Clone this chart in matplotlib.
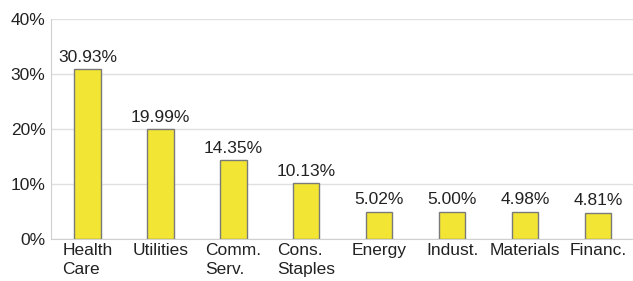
import matplotlib.pyplot as plt
import numpy as np

plt.rcParams['font.family'] = ['Liberation Sans', 'DejaVu Sans']

categories = ['Health\nCare', 'Utilities', 'Comm.\nServ.', 'Cons.\nStaples',
              'Energy', 'Indust.', 'Materials', 'Financ.']
values = [30.93, 19.99, 14.35, 10.13, 5.02, 5.00, 4.98, 4.81]
yticks = [0, 10, 20, 30, 40]

fig = plt.figure(figsize=(6.33, 2.81), dpi=100)
ax = fig.add_axes([0.0806, 0.149, 0.922, 0.783])

x = np.arange(len(categories))
ax.bar(x, values, width=0.36, color='#F3E533', edgecolor='#7A7A7A', linewidth=1, zorder=3)

for xi, v in zip(x, values):
    ax.text(xi, v + 0.8, f'{v:.2f}%', ha='center', va='bottom', fontsize=12.5, color='#222222')

ax.set_xlim(-0.5, len(categories) - 0.5)
ax.set_ylim(0, 40)
ax.set_yticks(yticks)
ax.set_yticklabels([f'{t}%' for t in yticks], fontsize=12.5, color='#222222')
ax.set_xticks(x)
ax.set_xticklabels(categories, fontsize=12.5, color='#222222', linespacing=1.3,
                   va='top', multialignment='left')
ax.tick_params(axis='both', length=0, pad=4)
ax.tick_params(axis='x', pad=3)
ax.grid(axis='y', color='#E0E0E0', linewidth=1, zorder=0)

for s in ['top', 'right']:
    ax.spines[s].set_visible(False)
ax.spines['left'].set_color('#D0D0D0')
ax.spines['bottom'].set_color('#D0D0D0')

fig.savefig('out.png', dpi=100)
